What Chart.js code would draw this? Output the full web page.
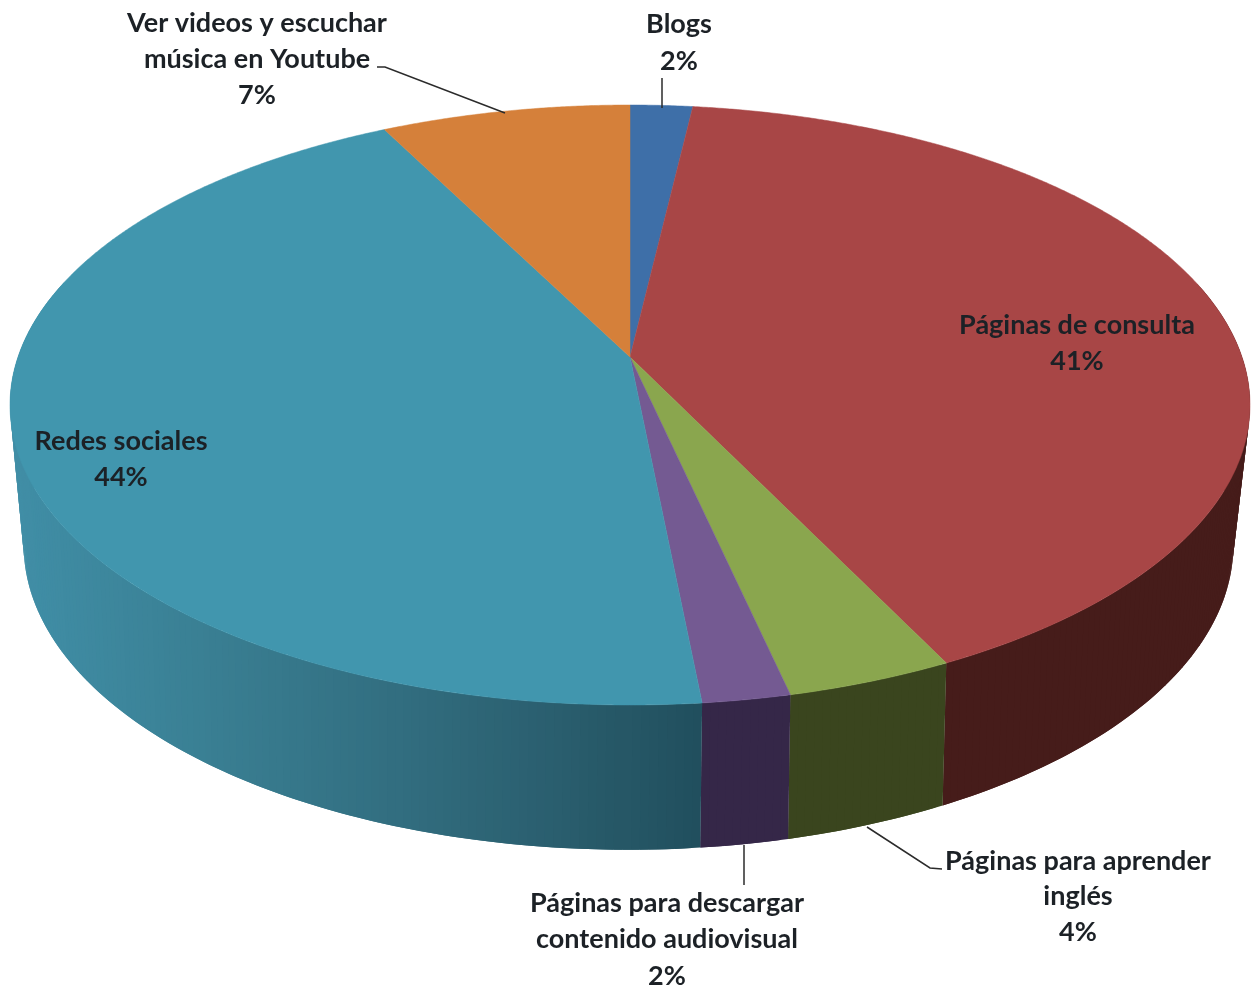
<!DOCTYPE html>
<html><head><meta charset="utf-8">
<style>html,body{margin:0;padding:0;background:#fff}canvas{display:block}</style>
<script src="https://cdn.jsdelivr.net/npm/chart.js@4"></script>
</head><body><canvas id="c" width="1252" height="987"></canvas>
<script>
const categories = ['Blogs','Páginas de consulta','Páginas para aprender inglés','Páginas para descargar contenido audiovisual','Redes sociales','Ver videos y escuchar música en Youtube'];
const values = [1.9, 40.8, 3.75, 1.97, 44.0, 7.58];
const percentLabels = ['2%','41%','4%','2%','44%','7%'];
const labelLines = [['Blogs'],['Páginas de consulta'],['Páginas para aprender','inglés'],['Páginas para descargar','contenido audiovisual'],['Redes sociales'],['Ver videos y escuchar','música en Youtube']];

// styles and layout (kept apart from the data)
const topColors = ['#3e6fa8','#a84646','#8aa64e','#745a92','#4196ae','#d5803a'];
const wallColors = ['#27466b','#461c1a','#3a451e','#352748',null,'#85501f'];
const tealWallStops = [[20,[64,142,166]],[200,[58,128,148]],[400,[50,110,128]],[560,[42,94,110]],[705,[32,78,92]]];
const labelAnchors = [[679,24,37],[1077,325,36],[1078,861,35.5],[667,903,36.5],[121,441,36],[257,23,36]];
const leaders = [[[662,78],[662,108]],[[377,67],[385,67],[505,113]],[[744,845],[744,885]],[[867,827],[930,868],[942,869]]];
const topDisc = {cx:630, y0:357, a:612, b:292.3, p:0.16};
const baseDisc = {cx:628.5, y0:490, a:595, b:295, p:0.18};

function project(d, angle){
  const u=Math.cos(angle), v=Math.sin(angle), w=1-d.p*v;
  return [d.cx+d.a*u/w, d.y0+d.b*v/w];
}
function tealAt(x){
  const s=tealWallStops;
  if(x<=s[0][0]) return `rgb(${s[0][1].join(',')})`;
  for(let i=1;i<s.length;i++){
    if(x<=s[i][0]){
      const t=(x-s[i-1][0])/(s[i][0]-s[i-1][0]);
      const c=s[i-1][1].map((q,k)=>Math.round(q+(s[i][1][k]-q)*t));
      return `rgb(${c.join(',')})`;
    }
  }
  return `rgb(${s[s.length-1][1].join(',')})`;
}
const pie3d = {
  id:'pie3d',
  beforeDatasetDraw(chart,args){
    const ctx=chart.ctx, arcs=chart.getDatasetMeta(args.index).data;
    ctx.save();
    ctx.fillStyle='#fff';ctx.fillRect(0,0,chart.width,chart.height);
    // side wall, strip by strip; every strip overlaps the next one so no seams show
    arcs.forEach((arc,i)=>{
      const step=(arc.endAngle-arc.startAngle)/Math.max(2,Math.ceil((arc.endAngle-arc.startAngle)/0.012));
      const n=Math.round((arc.endAngle-arc.startAngle)/step);
      const order=[];
      for(let k=0;k<n;k++) order.push(k);
      // paint from the back of the pie to the front
      order.sort((p,q)=>Math.sin(arc.startAngle+step*p)-Math.sin(arc.startAngle+step*q));
      order.forEach(k=>{
        const a0=arc.startAngle+step*k;
        const a1=Math.min(arc.endAngle,a0+step*2);
        if(Math.sin(a0)<-0.25&&Math.sin(a1)<-0.25) return;
        const p=[project(topDisc,a0),project(topDisc,a1),project(baseDisc,a1),project(baseDisc,a0)];
        ctx.fillStyle=wallColors[i]||tealAt((p[0][0]+p[2][0])/2);
        ctx.beginPath();ctx.moveTo(p[0][0],p[0][1]);
        for(let q=1;q<4;q++)ctx.lineTo(p[q][0],p[q][1]);
        ctx.closePath();ctx.fill();
      });
    });
    // top face
    arcs.forEach((arc,i)=>{
      ctx.fillStyle=topColors[i];ctx.strokeStyle=topColors[i];ctx.lineWidth=0.5;
      ctx.beginPath();ctx.moveTo(topDisc.cx,topDisc.y0);
      const n=Math.ceil((arc.endAngle-arc.startAngle)/0.005);
      for(let k=0;k<=n;k++){
        const p=project(topDisc,arc.startAngle+(arc.endAngle-arc.startAngle)*k/n);
        ctx.lineTo(p[0],p[1]);
      }
      ctx.closePath();ctx.fill();ctx.stroke();
    });
    ctx.restore();
    return false;
  },
  afterDatasetsDraw(chart){
    const ctx=chart.ctx;
    ctx.save();
    ctx.strokeStyle='#2b2b2b';ctx.lineWidth=1.5;
    leaders.forEach(l=>{
      ctx.beginPath();ctx.moveTo(l[0][0],l[0][1]);
      l.slice(1).forEach(p=>ctx.lineTo(p[0],p[1]));
      ctx.stroke();
    });
    ctx.font='700 27px Lato, Carlito, sans-serif';
    ctx.textAlign='center';ctx.textBaseline='middle';
    ctx.fillStyle='#1c2126';
    labelLines.forEach((lines,i)=>{
      const [x,y,lh]=labelAnchors[i];
      lines.concat(percentLabels[i]).forEach((t,j)=>ctx.fillText(t,x,y+j*lh));
    });
    ctx.restore();
  }
};
document.fonts.load('700 27px Lato').finally(()=>{
new Chart(document.getElementById('c'),{
  type:'pie',
  data:{labels:categories,datasets:[{data:values,backgroundColor:topColors,borderWidth:0}]},
  options:{responsive:false,animation:false,plugins:{legend:{display:false},tooltip:{enabled:false}}},
  plugins:[pie3d]
});
});
</script></body></html>
